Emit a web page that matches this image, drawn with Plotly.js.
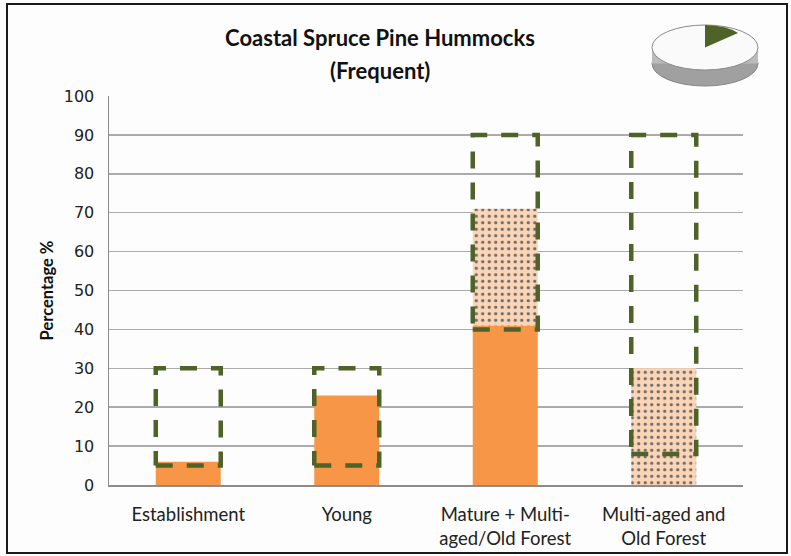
<!DOCTYPE html>
<html>
<head>
<meta charset="utf-8">
<script src="https://cdn.plot.ly/plotly-3.0.1.min.js"></script>
<style>html,body{margin:0;padding:0;background:#fff;}#chart{width:791px;height:556px;}</style>
</head>
<body>
<div id="chart"></div>
<script>
// ---- data ----
var categories = ["Establishment", "Young", "Mature + Multi-<br>aged/Old Forest", "Multi-aged and<br>Old Forest"];
var currentSolid = [6, 23, 41, 0];          // solid orange bars (0 -> top)
var currentDottedBase = [0, 0, 41, 0];      // dotted segment start
var currentDotted = [0, 0, 30, 30];         // dotted segment height
var rangeLow = [5, 5, 40, 8];               // dashed target range, low
var rangeHigh = [30, 30, 90, 90];           // dashed target range, high
var yTicks = [0, 10, 20, 30, 40, 50, 60, 70, 80, 90, 100];
var titleLine1 = "Coastal Spruce Pine Hummocks";
var titleLine2 = "(Frequent)";

// ---- layout constants ----
var W = 791, H = 556;
var M = {l: 109, r: 48, t: 96, b: 71};
var barW = 0.41;
var xIdx = categories.map(function (c, i) { return i; });

function px(x) { return (x - M.l) / (W - M.l - M.r); }
function py(y) { return (H - M.b - y) / (H - M.t - M.b); }

var traces = [];
traces.push({
  type: 'bar', x: xIdx, y: currentSolid, base: 0, width: barW,
  marker: {color: '#F79646', line: {width: 0}}, hoverinfo: 'y', showlegend: false
});
traces.push({
  type: 'bar', x: xIdx, y: currentDotted, base: currentDottedBase, width: barW,
  marker: {color: '#FBD5B6', line: {width: 0},
    pattern: {shape: '.', bgcolor: '#FBD5B6', fgcolor: '#6b6b6b', fgopacity: 1, size: 6.5, solidity: 0.2}},
  hoverinfo: 'y', showlegend: false
});
xIdx.forEach(function (i) {
  var a = i - barW / 2, b = i + barW / 2;
  traces.push({
    type: 'scatter', mode: 'lines',
    x: [a, b, b, a, a],
    y: [rangeLow[i], rangeLow[i], rangeHigh[i], rangeHigh[i], rangeLow[i]],
    line: {color: '#4F6228', width: 4.5, dash: '17px,14px'},
    hoverinfo: 'skip', showlegend: false
  });
});

// pie icon (decoration) in pixel space converted to paper
var cx = 705, rx = 53, ry = 22.5, topCy = 47.5, depth = 16;
var shapes = [
  {type: 'circle', xref: 'paper', yref: 'paper', layer: 'above',
   x0: px(cx - rx), x1: px(cx + rx), y0: py(topCy + depth - ry), y1: py(topCy + depth + ry),
   fillcolor: '#A0A0A0', line: {color: '#858585', width: 1}},
  {type: 'rect', xref: 'paper', yref: 'paper', layer: 'above',
   x0: px(cx - rx), x1: px(cx + rx), y0: py(topCy), y1: py(topCy + depth),
   fillcolor: '#BBBBBB', line: {width: 0}},
  {type: 'circle', xref: 'paper', yref: 'paper', layer: 'above',
   x0: px(cx - rx), x1: px(cx + rx), y0: py(topCy - ry), y1: py(topCy + ry),
   fillcolor: '#FAFAFA', line: {color: '#8a8a8a', width: 1}},
  {type: 'path', xref: 'paper', yref: 'paper', layer: 'above',
   path: 'M' + px(cx) + ',' + py(topCy) + ' L' + px(cx) + ',' + py(topCy - ry) +
         ' Q' + px(cx + 22) + ',' + py(topCy - ry + 0.5) + ' ' + px(cx + 33) + ',' + py(33) + ' Z',
   fillcolor: '#4F6228', line: {width: 0}},
  // outer frame
  {type: 'rect', xref: 'paper', yref: 'paper', layer: 'above',
   x0: px(7), x1: px(787), y0: py(553), y1: py(4),
   fillcolor: 'rgba(0,0,0,0)', line: {color: '#1a1a1a', width: 2}}
];

var layout = {
  width: W, height: H,
  margin: M,
  paper_bgcolor: '#FDFDFD', plot_bgcolor: '#FDFDFD',
  barmode: 'overlay',
  title: {text: '<b>' + titleLine1 + '</b>',
    font: {family: 'Lato, sans-serif', size: 22, color: '#111'},
    x: 380 / W, xref: 'container', xanchor: 'center',
    y: 1 - 38 / H, yref: 'container', yanchor: 'middle'},
  annotations: [{text: '<b>' + titleLine2 + '</b>', xref: 'paper', yref: 'paper',
    x: px(380), y: py(71), xanchor: 'center', yanchor: 'middle', showarrow: false,
    font: {family: 'Lato, sans-serif', size: 22, color: '#111'}}],
  xaxis: {
    range: [-0.5, 3.5], tickvals: xIdx, ticktext: categories,
    showgrid: false, zeroline: false, showline: true, linecolor: '#8c8c8c', linewidth: 1.5,
    ticks: '', ticklabelstandoff: 12,
    tickfont: {family: 'Lato, sans-serif', size: 18.5, color: '#222'},
    fixedrange: true
  },
  yaxis: {
    range: [0, 100], tickvals: yTicks, ticktext: yTicks.map(String),
    showgrid: true, gridcolor: '#ABABAB', gridwidth: 1.5, zeroline: false,
    showline: true, linecolor: '#8c8c8c', linewidth: 1.5, ticks: '', ticklabelstandoff: 10,
    tickfont: {family: 'DejaVu Sans, Verdana, sans-serif', size: 16, color: '#222'},
    title: {text: '<b>Percentage %</b>', font: {family: 'Lato, sans-serif', size: 16.5, color: '#111'}, standoff: 6},
    fixedrange: true
  },
  shapes: shapes,
  showlegend: false
};

Plotly.newPlot('chart', traces, layout, {staticPlot: true, displayModeBar: false});
</script>
</body>
</html>
